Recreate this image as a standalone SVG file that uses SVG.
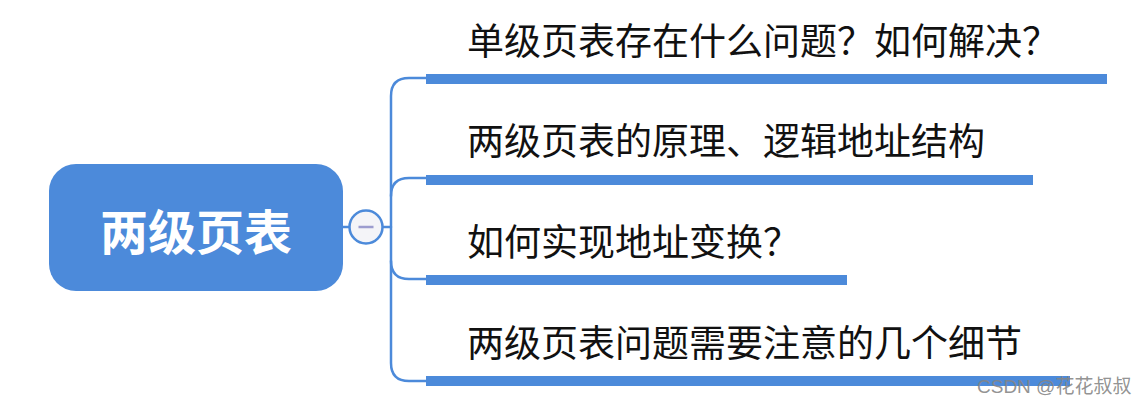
<svg xmlns="http://www.w3.org/2000/svg" width="1144" height="407" viewBox="0 0 1144 407">
<style>
.conn{fill:none;stroke:#4c8ada;stroke-width:2.5;stroke-linecap:round}
.bar{fill:#4c8ada}
.topic{font-family:"Noto Sans CJK SC","Noto Sans",sans-serif;font-size:37px;fill:#111}
.main{font-family:"Noto Sans CJK SC","Noto Sans",sans-serif;font-size:48px;font-weight:bold;fill:#fff}
</style>
<rect width="1144" height="407" fill="#fff"/>
<g id="connectors">
<path class="conn" d="M343 227 H349"/>
<path class="conn" d="M383 227 H391"/>
<path class="conn" d="M426 78 H409 Q391 78 391 96 V363 Q391 381 409 381 H426"/>
<path class="conn" d="M391 196 Q391 178 409 178 H426"/>
<path class="conn" d="M391 261 Q391 279 409 279 H426"/>
</g>
<g id="root">
<rect x="49" y="164" width="294" height="127" rx="27" fill="#4c8ada"/>
<text class="main" x="196" y="250" text-anchor="middle">两级页表</text>
</g>
<g id="collapse">
<circle cx="366" cy="227" r="16.5" fill="#f4f4f8" stroke="#4c8ada" stroke-width="2.5"/>
<path d="M358.5 227 H373.5" stroke="#9c9ccf" stroke-width="2.5"/>
</g>
<g id="topic1">
<text class="topic" x="467" y="55">单级页表存在什么问题？如何解决？</text>
<rect class="bar" x="426" y="74" width="681" height="10"/>
</g>
<g id="topic2">
<text class="topic" x="467" y="155">两级页表的原理、逻辑地址结构</text>
<rect class="bar" x="426" y="175" width="607" height="10"/>
</g>
<g id="topic3">
<text class="topic" x="467" y="256">如何实现地址变换？</text>
<rect class="bar" x="426" y="275" width="421" height="10"/>
</g>
<g id="topic4">
<text class="topic" x="467" y="357">两级页表问题需要注意的几个细节</text>
<rect class="bar" x="426" y="376" width="644" height="10"/>
</g>
<text x="977" y="393" font-family="'Liberation Sans','Noto Sans CJK SC',sans-serif" font-size="19" fill="#858585" fill-opacity="0.9">CSDN @花花叔叔</text>
</svg>
